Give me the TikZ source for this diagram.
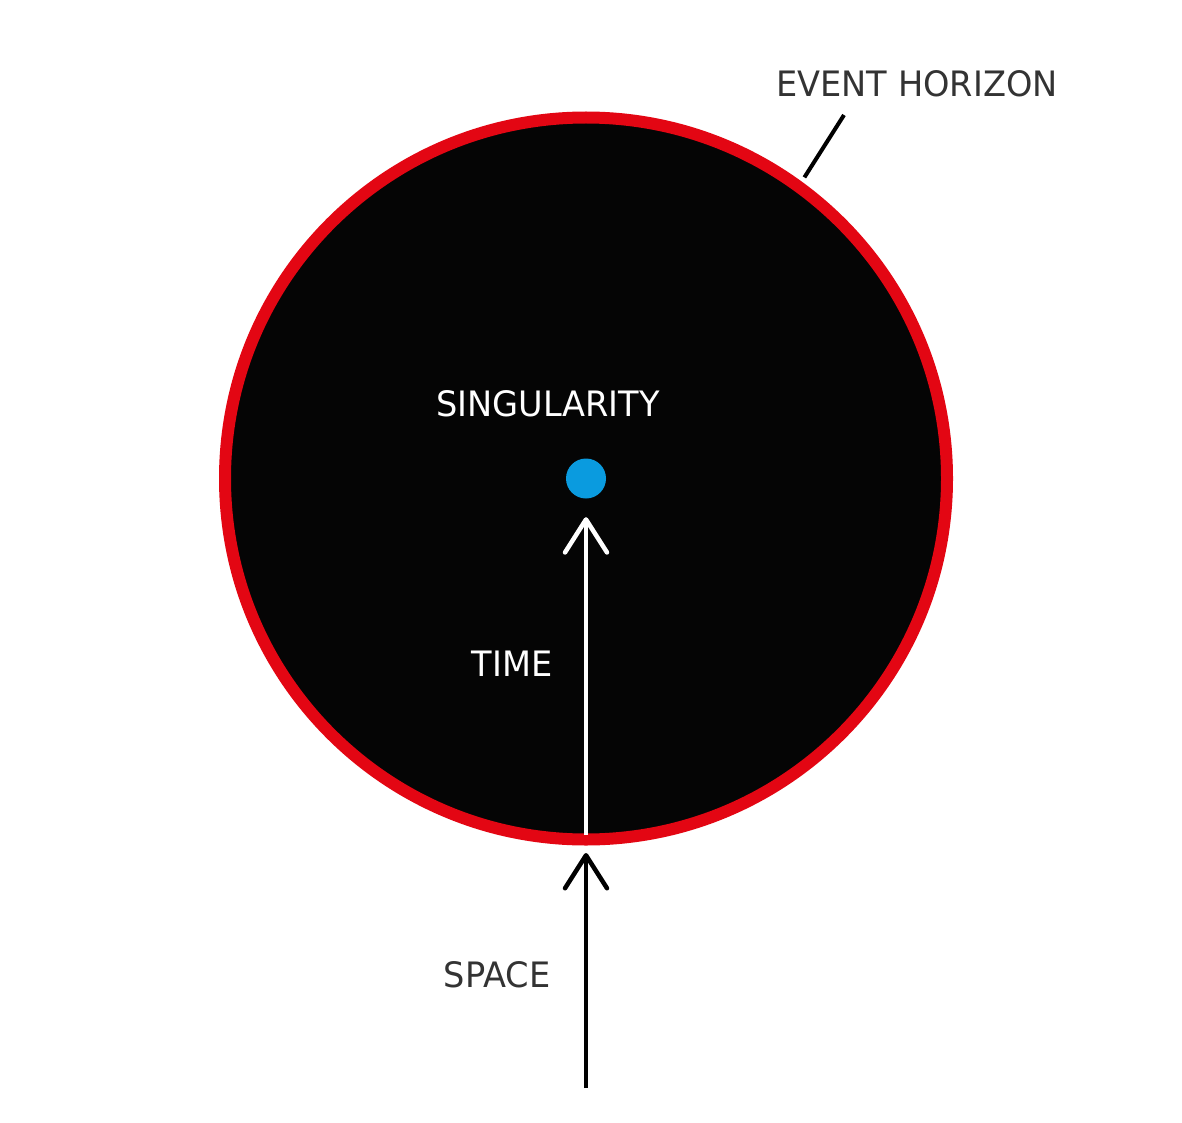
\documentclass[tikz,border=0pt]{standalone}
\usepackage{fontspec}
\setmainfont{DejaVu Sans}[FakeStretch=0.96]
\usetikzlibrary{arrows.meta}
\definecolor{ehred}{HTML}{E30613}
\definecolor{bhblack}{HTML}{050505}
\definecolor{singblue}{HTML}{0A9BDF}
\definecolor{txtgray}{HTML}{333333}
\begin{document}
\begin{tikzpicture}[x=1pt,y=-1pt,
  lbl/.style={font=\fontsize{35}{40}\selectfont, inner sep=0pt, anchor=center},
  barb/.style={-{Straight Barb[length=33pt,width=42pt,line cap=round,line join=round]}, line width=4.5pt},
  leader/.style={line width=4pt, draw=black}]
\useasboundingbox[fill=white] (0,0) rectangle (1182,1123);
% black hole with event horizon
\node[circle, draw=ehred, fill=bhblack, line width=12pt, minimum size=722pt, inner sep=0pt] (bh) at (586,478.5) {};
% singularity
\node[circle, fill=singblue, minimum size=40pt, inner sep=0pt] (sing) at (586,478.5) {};
% labels
\node[lbl, text=white] (singl) at (548,404) {SINGULARITY};
\node[lbl, text=white] (timel) at (512,664) {TIME};
\node[lbl, text=txtgray] (spacel) at (497,975) {SPACE};
\node[lbl, text=txtgray] (ehl) at (917,84) {EVENT HORIZON};
% connectors
\coordinate (ts) at (586,835);
\coordinate (sb) at (586,1088);
\coordinate (lt) at (844,115);
\draw[barb, draw=white, shorten >=18.5pt] (ts) -- (sing.south);
\draw[barb, draw=black, shorten >=7.5pt] (sb) -- (bh.south);
\draw[leader, shorten >=5pt] (lt) -- (bh.54.4);
\end{tikzpicture}
\end{document}
